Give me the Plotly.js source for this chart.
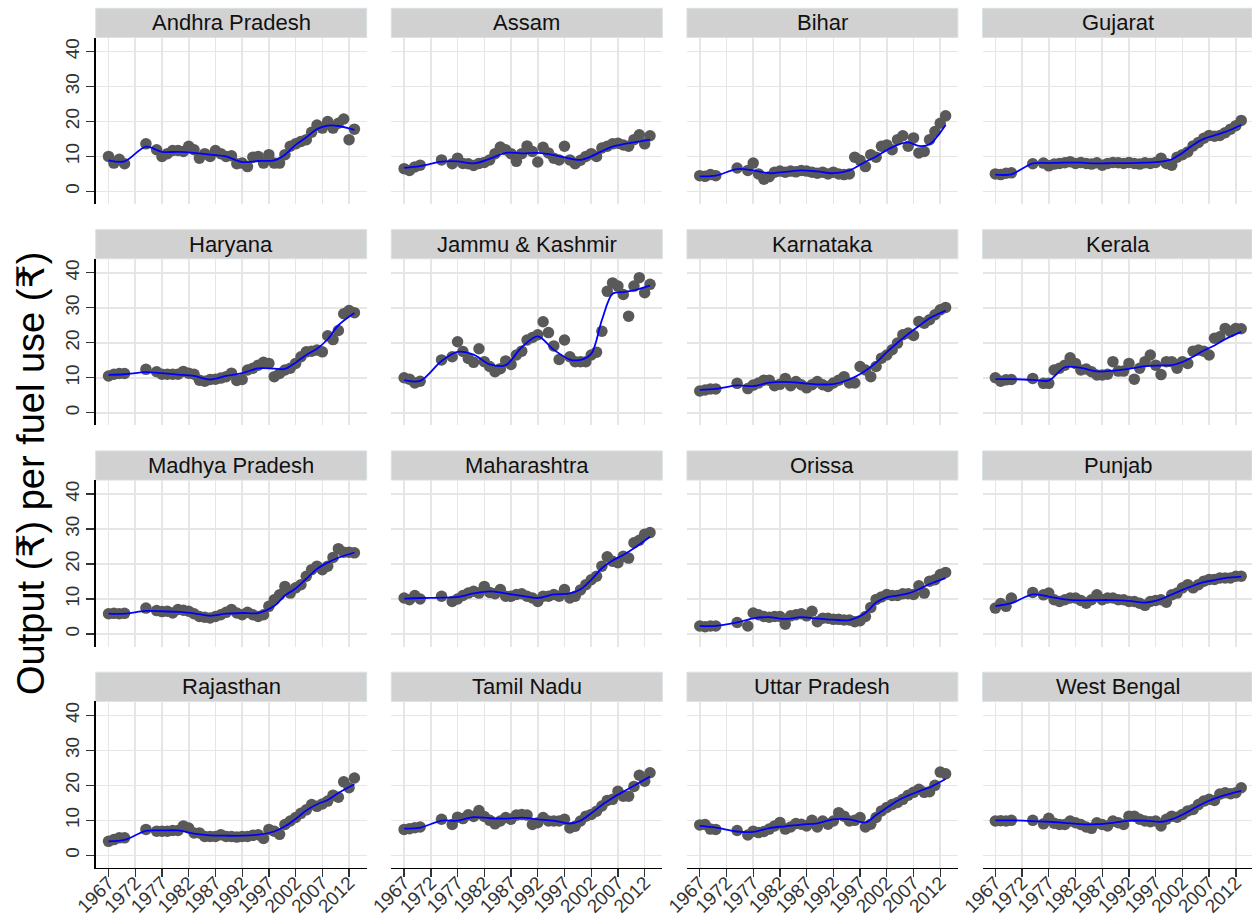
<!DOCTYPE html>
<html>
<head>
<meta charset="utf-8">
<script src="https://cdn.plot.ly/plotly-3.0.1.min.js"></script>
<style>
html,body{margin:0;padding:0;background:#fff;}
#chart{width:1252px;height:919px;}
</style>
</head>
<body>
<div id="chart"></div>
<script>
// ---------------- DATA ----------------
const states = ["Andhra Pradesh","Assam","Bihar","Gujarat","Haryana","Jammu & Kashmir","Karnataka","Kerala",
  "Madhya Pradesh","Maharashtra","Orissa","Punjab","Rajasthan","Tamil Nadu","Uttar Pradesh","West Bengal"];

const years = [1967,1968,1969,1970,1974,1976,1977,1978,1979,
  1980,1981,1982,1983,1984,1985,1986,1987,1988,1989,
  1990,1991,1992,1993,1994,1995,1996,1997,1998,1999,
  2000,2001,2002,2003,2004,2005,2006,2007,2008,2009,
  2010,2011,2012,2013];

const xTickYears = [1967,1972,1977,1982,1987,1992,1997,2002,2007,2012];
const yTickValues = [0,10,20,30,40];

const andhraPradesh = [10.0,8.1,9.2,7.9, 13.6, 11.9,10.0,10.8,11.7,
  11.7,11.4,12.9,11.9,9.5,10.8,10.0,11.7,10.8,10.0,
  10.2,7.9,8.1,7.1,9.8,10.0,8.1,10.5,8.1,8.1,
  10.5,12.9,13.6,14.3,14.8,16.9,19.0,18.1,20.0,18.1,
  19.5,20.7,14.8,17.8];
const assam = [6.5,6.0,7.0,7.5, 9.0, 7.9,9.5,8.0,7.9,
  7.4,8.0,8.3,9.0,10.8,12.7,11.9,10.8,8.6,10.8,
  13.0,11.4,8.4,12.6,11.0,9.5,9.0,12.9,9.0,7.9,
  8.9,10.0,10.8,10.0,12.4,12.9,13.6,13.8,13.3,12.9,
  14.8,16.2,13.6,15.9];
const bihar = [4.5,4.3,4.8,4.5, 6.7, 6.0,8.1,5.0,3.5,
  4.2,5.5,5.8,5.5,5.8,5.6,6.0,5.8,5.5,5.2,
  5.5,5.0,5.5,5.0,4.8,5.0,9.8,8.9,7.1,10.5,
  9.8,12.9,13.3,11.9,14.8,15.9,12.9,15.3,11.0,11.4,
  14.8,17.1,19.5,21.6];
const gujarat = [5.0,4.8,5.2,5.3, 7.9, 8.1,7.3,7.8,8.0,
  8.2,8.5,8.0,8.3,8.0,7.8,8.2,7.5,8.0,8.3,
  8.2,8.0,8.3,8.0,7.8,8.2,8.0,8.3,9.5,8.0,
  7.5,9.8,10.5,11.3,13.0,14.0,15.2,16.0,15.8,16.0,
  16.8,17.8,18.8,20.3];
const haryana = [10.5,11.0,11.2,11.2, 12.4, 11.7,11.0,11.0,11.0,
  11.0,11.8,11.3,11.0,9.3,9.0,9.5,9.6,9.9,10.3,
  11.3,9.2,9.5,12.2,12.7,13.6,14.4,14.1,10.3,11.2,
  12.2,12.7,14.1,16.0,17.4,17.6,17.9,17.4,22.0,20.9,
  23.5,28.3,29.2,28.6];
const jammuKashmir = [10.0,9.6,8.5,9.0, 15.1, 16.0,20.3,17.5,15.5,
  14.4,18.3,14.6,13.2,11.7,12.6,14.8,13.8,16.5,17.6,
  20.8,21.5,22.3,26.0,22.9,19.1,15.2,20.8,16.0,14.6,
  14.6,14.6,16.5,17.3,23.3,34.7,37.1,36.2,33.8,27.6,
  36.2,38.6,34.3,36.7];
const karnataka = [6.2,6.5,6.8,6.8, 8.4, 6.9,7.9,8.5,9.3,
  9.3,7.7,8.1,9.8,7.7,8.9,8.0,7.1,8.0,8.9,
  8.0,7.5,8.5,9.3,10.3,8.5,8.5,13.2,12.2,10.3,
  13.2,15.6,16.5,18.0,19.9,22.3,22.8,22.1,26.1,25.6,
  26.6,28.0,29.4,30.1];
const kerala = [10.0,9.0,9.4,9.5, 9.8, 8.4,8.4,12.2,12.7,
  13.6,15.7,14.1,12.2,12.5,11.7,10.8,10.8,11.0,14.6,
  11.9,11.9,14.1,9.6,12.7,14.6,16.5,13.6,10.9,14.6,
  14.6,12.7,14.6,14.1,17.6,17.9,17.6,16.5,21.3,21.7,
  24.1,23.2,24.1,24.0];
const madhyaPradesh = [5.8,5.9,5.8,5.9, 7.4, 6.7,6.4,6.5,6.0,
  7.0,6.8,6.5,5.8,5.0,4.8,4.6,5.0,5.5,6.2,
  7.0,6.0,5.5,6.2,5.5,5.0,5.5,7.9,9.8,11.2,
  13.6,11.7,13.2,14.1,16.5,18.4,19.4,18.4,19.4,21.9,
  24.4,23.4,23.4,23.2];
const maharashtra = [10.3,9.8,11.0,10.0, 10.8, 9.3,10.0,11.0,11.7,
  12.2,11.7,13.6,11.9,11.5,12.7,10.8,10.8,11.3,11.5,
  10.8,10.3,9.3,10.8,10.8,11.3,10.8,12.7,10.3,10.8,
  12.6,14.1,15.5,16.5,19.4,22.1,20.8,20.4,22.2,21.7,
  26.1,26.8,28.5,29.0];
const orissa = [2.3,2.1,2.3,2.3, 3.3, 2.3,6.0,5.5,5.0,
  4.8,5.0,5.0,2.8,5.2,5.5,5.8,5.2,6.5,3.5,
  4.5,4.5,4.2,4.2,4.0,4.0,3.5,3.8,5.0,7.6,
  9.9,10.6,11.3,11.0,11.0,11.5,11.5,11.3,13.8,11.7,
  15.1,15.5,17.0,17.6];
const punjab = [7.4,8.7,7.9,10.3, 11.9, 11.2,11.7,9.8,9.3,
  9.8,10.3,10.3,9.6,8.8,9.8,11.2,9.8,10.3,10.3,
  9.8,9.8,9.3,9.3,8.8,8.2,9.3,9.6,9.8,9.1,
  11.2,11.7,13.2,14.1,13.2,14.1,15.1,15.6,15.6,16.0,
  16.0,16.0,16.5,16.5];
const rajasthan = [4.0,4.5,5.0,5.0, 7.4, 6.9,6.9,6.9,7.1,
  7.1,8.4,7.8,6.4,6.4,5.4,5.4,5.4,5.9,5.4,
  5.4,5.2,5.4,5.4,5.7,5.9,4.8,7.4,6.9,6.0,
  8.8,9.8,10.8,12.0,13.0,14.5,14.0,14.7,15.5,17.2,
  16.6,21.0,19.3,22.1];
const tamilNadu = [7.4,7.6,7.9,8.1, 10.3, 8.8,10.9,10.5,11.6,
  11.1,12.8,11.1,10.0,9.0,9.8,10.8,10.3,11.5,11.7,
  11.5,8.8,9.3,10.8,9.8,9.8,9.8,10.3,7.8,8.3,
  9.8,11.2,11.7,12.6,14.1,15.7,16.0,18.3,16.9,16.9,
  19.7,22.9,21.2,23.6];
const uttarPradesh = [8.7,8.8,7.5,7.4, 7.1, 5.8,6.9,6.5,6.8,
  7.5,8.4,9.4,7.5,8.1,9.1,8.9,8.4,10.0,8.1,
  9.8,8.9,9.8,12.2,11.2,9.8,10.0,10.8,8.1,8.9,
  10.8,12.7,13.7,14.5,15.1,16.0,17.2,18.0,18.9,18.0,
  18.2,20.0,23.8,23.3];
const westBengal = [9.8,9.9,9.8,10.0, 10.0, 9.0,10.6,9.2,8.8,
  8.8,9.8,9.3,8.8,8.1,7.7,9.3,8.8,8.4,9.8,
  9.3,8.8,11.2,11.2,10.3,9.8,9.6,9.8,8.4,10.3,
  11.2,10.9,11.7,12.7,13.1,14.5,15.5,16.0,15.7,17.5,
  17.9,17.6,17.9,19.3];

// smoothed trend
const smYears = [1967,1970,1974,1977,1980,1983,1986,1989,1992,1995,1998,2000,2002,2004,2006,2008,2010,2013];
const smAndhraPradesh = [8.9,8.6,12.8,11.3,11.3,11.0,10.5,10.0,8.4,8.7,8.9,10.5,13.3,15.5,17.8,18.8,18.7,17.6];
const smAssam = [6.7,7.2,8.5,8.6,8.0,9.3,11.0,10.9,11.0,10.4,9.4,9.0,10.0,11.5,12.8,13.5,14.0,14.8];
const smBihar = [4.3,4.5,6.4,6.0,5.2,5.6,6.0,5.7,5.2,6.0,8.5,10.0,11.8,13.3,14.0,13.0,13.5,19.0];
const smGujarat = [4.8,4.9,8.0,8.1,8.2,8.2,8.0,8.1,8.1,8.2,8.5,9.2,11.0,13.3,15.0,16.0,17.0,19.0];
const smHaryana = [10.8,11.0,11.6,11.3,10.9,10.5,9.5,10.5,11.3,12.7,12.6,12.5,14.3,16.5,18.3,21.0,25.0,28.5];
const smJammuKashmir = [9.3,9.1,14.8,17.4,16.6,13.8,13.6,18.7,21.8,18.0,15.2,15.1,16.8,26.5,34.0,34.5,35.0,36.3];
const smKarnataka = [6.5,6.8,7.8,7.6,8.6,8.8,8.5,8.1,8.2,9.5,12.0,14.3,17.3,20.0,22.5,24.8,27.0,29.2];
const smKerala = [9.6,9.6,9.4,9.2,13.0,12.8,11.8,12.0,12.5,13.3,13.5,13.6,14.5,16.0,17.8,19.2,21.0,23.1];
const smMadhyaPradesh = [5.8,5.8,6.6,6.5,6.3,5.9,5.2,5.8,6.0,6.0,8.0,11.0,13.0,15.8,18.6,20.4,21.8,23.3];
const smMaharashtra = [10.1,10.3,10.4,10.6,11.6,12.2,11.6,10.9,10.3,11.3,11.6,12.8,15.5,18.8,21.0,22.6,24.5,27.8];
const smOrissa = [2.3,2.3,3.3,4.5,4.8,4.3,4.8,4.4,4.1,4.0,6.0,9.0,10.5,11.0,11.6,12.8,14.3,16.0];
const smPunjab = [8.0,8.8,11.3,10.7,9.9,9.6,9.7,9.7,9.5,9.0,10.0,11.3,12.6,13.8,14.8,15.4,16.0,16.4];
const smRajasthan = [4.0,4.4,7.0,7.1,7.1,6.2,5.7,5.6,5.6,5.9,6.8,8.3,10.4,12.8,14.6,15.8,17.8,20.3];
const smTamilNadu = [7.6,7.9,9.9,9.9,10.9,10.6,10.5,10.8,10.3,9.9,9.1,9.9,12.0,14.4,16.4,18.2,19.9,22.5];
const smUttarPradesh = [8.4,7.9,6.8,6.7,7.8,8.3,8.8,9.1,10.3,10.3,9.4,11.5,13.6,15.6,17.1,18.3,19.4,21.8];
const smWestBengal = [10.0,10.0,9.8,9.6,9.3,8.9,8.9,9.3,9.9,9.9,9.6,10.3,11.6,13.3,14.9,16.2,17.2,18.4];

const pointSeries = [andhraPradesh,assam,bihar,gujarat,haryana,jammuKashmir,karnataka,kerala,
  madhyaPradesh,maharashtra,orissa,punjab,rajasthan,tamilNadu,uttarPradesh,westBengal];
const smoothSeries = [smAndhraPradesh,smAssam,smBihar,smGujarat,smHaryana,smJammuKashmir,smKarnataka,smKerala,
  smMadhyaPradesh,smMaharashtra,smOrissa,smPunjab,smRajasthan,smTamilNadu,smUttarPradesh,smWestBengal];

const yTitle = "Output (₹) per fuel use (₹)";

// ---------------- LAYOUT ----------------
const W = 1252, H = 919;
const FONT = "Liberation Sans, Arial, Helvetica, 'DejaVu Sans', 'Noto Sans', sans-serif";
const colLeft = [95.7, 391.3, 686.9, 982.5];
const panelW = 271;
const rowTop = [8.3, 229.6, 450.9, 672.2];
const stripH = 29.2;
const plotH = 166.5;
const xMin = 1964.6, xMax = 2015.3;
const pxPerYear = panelW / (xMax - xMin);
const yRange = [-3.6, 44.0];

const traces = [];
const layout = {
  width: W, height: H,
  margin: {l:0, r:0, t:0, b:0, pad:0},
  paper_bgcolor: "#ffffff",
  plot_bgcolor: "#ffffff",
  showlegend: false,
  font: {family: FONT, color: "#000"},
  shapes: [],
  annotations: []
};

for (let i = 0; i < 16; i++) {
  const r = Math.floor(i / 4), c = i % 4;
  const sfx = i === 0 ? "" : String(i + 1);
  const xa = "x" + sfx, ya = "y" + sfx;
  const left = colLeft[c];
  const right = Math.min(left + panelW, W);
  const stripTop = rowTop[r];
  const plotTop = stripTop + stripH;
  const plotBottom = plotTop + plotH;
  const xRight = xMin + (right - left) / pxPerYear;

  traces.push({
    type: "scatter", mode: "markers", x: years, y: pointSeries[i],
    xaxis: xa, yaxis: ya,
    marker: {size: 11.5, color: "#595959"}, cliponaxis: false, hoverinfo: "skip"
  });
  traces.push({
    type: "scatter", mode: "lines", x: smYears, y: smoothSeries[i],
    xaxis: xa, yaxis: ya,
    line: {color: "#0000ff", width: 1.8, shape: "spline", smoothing: 0.9}, hoverinfo: "skip"
  });

  const isBottom = r === 3, isLeft = c === 0;
  layout["xaxis" + sfx] = {
    domain: [left / W, right / W], anchor: ya, range: [xMin, xRight],
    tickmode: "array", tickvals: xTickYears, ticktext: xTickYears.map(String),
    showgrid: true, gridcolor: "#e6e6e6", gridwidth: 1.6, zeroline: false,
    showline: isBottom, linecolor: "#000", linewidth: 1.3,
    ticks: isBottom ? "outside" : "", ticklen: 8, tickwidth: 1.3, tickcolor: "#333",
    showticklabels: isBottom, tickangle: -45, ticklabelstandoff: -13,
    tickfont: {family: FONT, size: 19, color: "#333"}, automargin: false, fixedrange: true
  };
  layout["yaxis" + sfx] = {
    domain: [1 - plotBottom / H, 1 - plotTop / H], anchor: xa, range: yRange,
    tickmode: "array", tickvals: yTickValues, ticktext: yTickValues.map(String),
    showgrid: true, gridcolor: "#e6e6e6", gridwidth: 1.6, zeroline: false,
    showline: isLeft, linecolor: "#000", linewidth: 1.3,
    ticks: isLeft ? "outside" : "", ticklen: 8, tickwidth: 1.3, tickcolor: "#333",
    showticklabels: isLeft, tickangle: -90,
    tickfont: {family: FONT, size: 19, color: "#333"}, automargin: false, fixedrange: true
  };

  layout.shapes.push({
    type: "rect", xref: "paper", yref: "paper",
    x0: left / W, x1: right / W, y0: 1 - (stripTop + stripH) / H, y1: 1 - stripTop / H,
    fillcolor: "#d1d1d1", line: {color: "#d9e2e6", width: 1}, layer: "below"
  });
  layout.annotations.push({
    xref: "paper", yref: "paper", x: (left + (left + panelW)) / 2 / W, y: 1 - (stripTop + stripH / 2) / H,
    xanchor: "center", yanchor: "middle", showarrow: false,
    text: states[i], font: {family: FONT, size: 22, color: "#111"}
  });
}

layout.annotations.push({
  xref: "paper", yref: "paper", x: 31 / W, y: 1 - 474 / H,
  xanchor: "center", yanchor: "middle", showarrow: false, textangle: -90,
  text: yTitle, font: {family: FONT, size: 38, color: "#000"}
});

Plotly.newPlot("chart", traces, layout, {displayModeBar: false, staticPlot: true});
</script>
</body>
</html>
